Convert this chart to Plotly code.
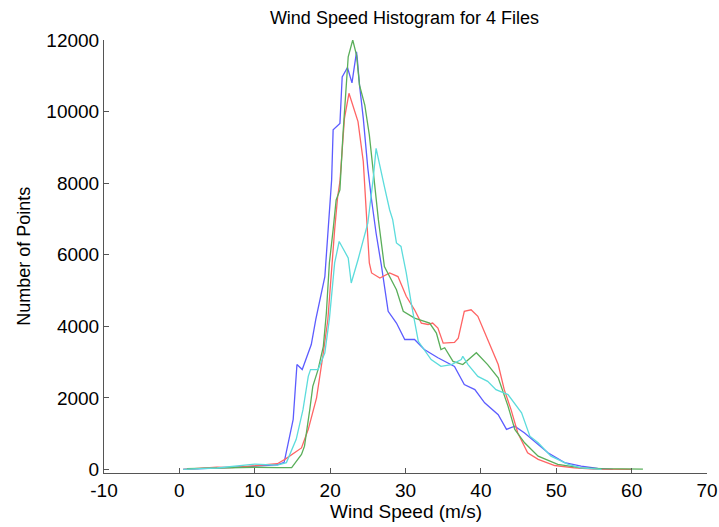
import plotly.graph_objects as go

# Series (wind speed m/s, count)
blue_x = [0.5, 3, 5, 7, 9, 11, 13, 13.9, 15.1, 15.6, 16.3, 17.5, 18.1, 19.3, 19.9, 20.2, 20.4, 21.3, 21.6, 22.3,
          22.9, 23.5, 23.6, 23.9, 24.4, 25.0, 25.5, 26.1, 26.8, 27.7, 28.8, 29.9, 31.2, 32.5, 34.3, 36.5, 37.8,
          39.2, 40.5, 42.3, 43.4, 44.5, 45.8, 47.1, 48.9, 51.1, 53.3, 55.5, 57.5]
blue_y = [0, 30, 40, 60, 80, 100, 130, 200, 1400, 2930, 2790, 3490, 4190, 5390, 7250, 8090, 9490, 9670, 10970, 11230,
          10800, 11670, 11490, 10740, 9810, 8420, 7530, 6600, 5700, 4420, 4090, 3630, 3630, 3350, 3120, 2880, 2370,
          2230, 1860, 1530, 1120, 1210, 1020, 790, 465, 190, 90, 30, 0]

red_x = [0.5, 3, 5, 7, 9, 11, 13, 14.0, 16.2, 17.1, 18.2, 19.1, 19.7, 20.6, 21.0, 21.3, 21.9, 22.5, 23.0, 23.7,
         24.4, 24.6, 24.8, 25.2, 25.5, 26.6, 27.9, 29.0, 30.1, 31.2, 32.1, 33.0, 33.6, 34.3, 35.0, 36.5, 37.0,
         37.8, 38.7, 39.6, 40.9, 42.3, 43.1, 44.0, 44.9, 46.2, 47.6, 49.8, 52.4, 55, 60]
red_y = [0, 40, 60, 50, 80, 120, 160, 280, 600, 1120, 2000, 3260, 4190, 6700, 7620, 8040, 9810, 10510, 10180, 9720,
         8600, 7950, 7160, 5770, 5490, 5350, 5490, 5390, 4840, 4460, 4090, 4050, 4090, 3950, 3530, 3550, 3670,
         4420, 4460, 4280, 3630, 2930, 2230, 1670, 1020, 465, 280, 110, 45, 10, 0]

green_x = [1, 5, 10, 13, 14.9, 16.2, 16.6, 17.3, 17.7, 18.4, 19.1, 19.5, 19.9, 20.4, 20.8, 21.3, 21.7, 22.4, 23.0,
           23.5, 23.9, 24.6, 25.2, 25.7, 26.4, 27.2, 28.1, 28.8, 29.7, 31.2, 33.2, 34.1, 34.7, 35.2, 36.3, 37.6,
           39.4, 40.9, 42.3, 43.6, 44.5, 45.8, 47.6, 50.2, 53.3, 56, 61.5]
green_y = [20, 40, 60, 50, 50, 420, 650, 1670, 2320, 2790, 3440, 4370, 5770, 6700, 7530, 7810, 9350, 11530, 12000,
           11580, 10740, 10180, 9350, 8370, 6980, 5670, 5300, 5020, 4420, 4230, 4090, 3810, 3350, 3400, 3020, 2930,
           3260, 2930, 2560, 1770, 1120, 745, 370, 140, 45, 20, 10]

cyan_x = [0.5, 5, 10, 13, 14.2, 15.5, 16.4, 17.1, 17.4, 18.4, 19.3, 19.9, 20.6, 21.2, 22.4, 22.8, 23.7, 25.0, 25.7,
          26.1, 27.2, 27.9, 28.3, 28.8, 29.4, 30.1, 30.8, 31.7, 33.4, 34.7, 36.1, 37.4, 37.6, 38.3, 39.6, 40.9,
          42.0, 43.6, 45.4, 46.5, 47.6, 49.3, 51.6, 53.3, 56]
cyan_y = [0, 40, 150, 120, 190, 840, 1670, 2600, 2790, 2790, 3260, 4200, 5770, 6370, 5910, 5210, 5860, 6880, 8090,
          8970, 7900, 7250, 6980, 6330, 6230, 5490, 4600, 3580, 3070, 2880, 2930, 3070, 3160, 2930, 2600, 2460,
          2230, 2090, 1580, 930, 745, 370, 140, 45, 0]

x_ticks = [-10, 0, 10, 20, 30, 40, 50, 60, 70]
y_ticks = [0, 2000, 4000, 6000, 8000, 10000, 12000]

series = [
    (blue_x, blue_y, "#5c5cff"),
    (red_x, red_y, "#ff6464"),
    (green_x, green_y, "#5aae5a"),
    (cyan_x, cyan_y, "#5cdcdc"),
]

FONT = "Liberation Sans, Arial, Helvetica, sans-serif"

fig = go.Figure()
for xs, ys, col in series:
    fig.add_trace(go.Scatter(x=xs, y=ys, mode="lines", line=dict(color=col, width=1.3), showlegend=False))

axis_common = dict(showgrid=False, zeroline=False, showline=True, linecolor="#555555", linewidth=1,
                   ticks="inside", ticklen=5, tickcolor="#555555", mirror=False, automargin=False,
                   tickfont=dict(family=FONT, size=19, color="black"))

fig.update_xaxes(range=[-10, 70], tickvals=x_ticks, ticktext=[str(v) for v in x_ticks], **axis_common)
fig.update_yaxes(range=[-100, 12000], tickvals=y_ticks, ticktext=[str(v) for v in y_ticks], **axis_common)

fig.update_layout(
    width=719, height=527,
    margin=dict(l=104, r=12, t=40, b=54, autoexpand=False),
    paper_bgcolor="white", plot_bgcolor="white",
    font=dict(family=FONT, color="black"),
    title=dict(text="Wind Speed Histogram for 4 Files", x=0.5625, xanchor="center", y=0.966, yanchor="middle",
               font=dict(family=FONT, size=18, color="black")),
    annotations=[
        dict(text="Wind Speed (m/s)", xref="paper", yref="paper", x=0.5, y=-0.088, xanchor="center",
             yanchor="middle", showarrow=False, font=dict(family=FONT, size=19, color="black")),
        dict(text="Number of Points", xref="paper", yref="paper", x=-0.134, y=0.5, xanchor="center",
             yanchor="middle", textangle=-90, showarrow=False, font=dict(family=FONT, size=18, color="black")),
    ],
)

fig.write_html("out.html")
